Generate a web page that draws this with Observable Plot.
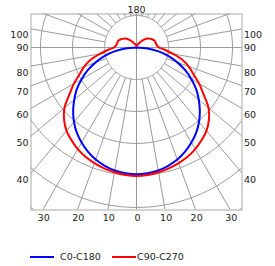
<!DOCTYPE html>
<html>
<head>
<meta charset="utf-8">
<script src="https://cdn.jsdelivr.net/npm/d3@7"></script>
<script src="https://cdn.jsdelivr.net/npm/@observablehq/plot@0.6"></script>
<style>
  html, body { margin: 0; padding: 0; background: #fff; }
  #wrap { position: relative; width: 275px; height: 266px; font-family: "DejaVu Sans", sans-serif; }
  #legend { position: absolute; top: 251px; left: 0; width: 275px; height: 12px; font-size: 9.5px; color: #222; }
  .sw { position: absolute; top: 5px; width: 24px; height: 2px; }
  .lb { position: absolute; top: 0; line-height: 12px; white-space: nowrap; }
</style>
</head>
<body>
<div id="wrap">
  <div id="chart"></div>
  <div id="legend">
    <span class="sw" style="left:30px;background:#0000ff"></span><span class="lb" style="left:60px">C0-C180</span>
    <span class="sw" style="left:112px;background:#ff0000"></span><span class="lb" style="left:137px">C90-C270</span>
  </div>
</div>
<script>
// gamma angles (deg, 0 = nadir) and intensities (relative, 100 = ring 4)
const redAngles = [0,5,10,15,20,25,30,35,40,45,50,55,60,65,70,75,80,85,90,95,100,105,110,115,120,125,130,135,140,145,150,155,160,165,170,175,180];
const redVals   = [100.5,100,99,97.8,96.2,94.3,91.7,88.5,85,80,73.5,64,56.5,49,43.5,37,29,22.5,17.6,16.2,15.6,15.4,15.2,14.3,13.3,12.1,11,9,7,5.3,3.9,3,2.3,1.9,1.6,1.3,1.2];
const blueAngles = [0,5,10,15,20,25,30,35,40,45,50,55,60,65,70,75,80,85,90];
const blueVals   = [99,98.6,97.6,95.7,93.2,89.8,85.8,81.3,76,70,63.5,57,49.5,42,34,26,17.5,8.7,0];
const ringVals = [25,50,75,100,125,150];
const spokeAngles = [10,20,30,40,50,60,70,80,100,110,120,130,140,150,160,170];
const sideLabels = [40,50,60,70,80,90,100];
const bottomLabels = [0,10,20,30];
const topLabel = "180";

const rad = d => d * Math.PI / 180;
const XMAX = 82.42, YMIN = -127, YMAX = 26.17;

function curve(angles, vals) {
  const pts = [];
  for (let i = angles.length - 1; i >= 0; i--) pts.push({x: -vals[i] * Math.sin(rad(angles[i])), y: -vals[i] * Math.cos(rad(angles[i]))});
  for (let i = 1; i < angles.length; i++) pts.push({x: vals[i] * Math.sin(rad(angles[i])), y: -vals[i] * Math.cos(rad(angles[i]))});
  return pts;
}
const redPts = curve(redAngles, redVals);
const bluePts = curve(blueAngles, blueVals);

const ringPts = [];
for (const r of ringVals) for (let a = 0; a <= 360; a += 2) ringPts.push({r, x: r * Math.sin(rad(a)), y: -r * Math.cos(rad(a))});

const spokes = [];
for (const s of [-1, 1]) for (const a of spokeAngles) spokes.push({x1: s*25*Math.sin(rad(a)), y1: -25*Math.cos(rad(a)), x2: s*300*Math.sin(rad(a)), y2: -300*Math.cos(rad(a))});
const axes = [{x1: -300, y1: 0, x2: 300, y2: 0}, {x1: 0, y1: -300, x2: 0, y2: 300}];

const bottomData = [];
for (const s of [-1, 1]) for (const a of bottomLabels) { if (a === 0 && s === -1) continue; bottomData.push({x: s * (-YMIN) * Math.tan(rad(a)), label: String(a)}); }
const sideData = sideLabels.map(a => ({y: -XMAX * Math.cos(rad(a)) / Math.sin(rad(a)), label: String(a), dy: a === 90 ? 0 : 6.5}));

const grid = "#9a9a9a";
const plot = Plot.plot({
  width: 275, height: 230,
  marginLeft: 30.5, marginRight: 33.5, marginTop: 13.5, marginBottom: 20.5,
  x: {domain: [-XMAX, XMAX], axis: null},
  y: {domain: [YMIN, YMAX], axis: null},
  style: {fontFamily: "DejaVu Sans, sans-serif", fontSize: "9.5px", color: "#222", background: "#fff"},
  marks: [
    Plot.line(ringPts, {x: "x", y: "y", z: "r", stroke: grid, strokeWidth: 1, clip: true}),
    Plot.link(spokes, {x1: "x1", y1: "y1", x2: "x2", y2: "y2", stroke: grid, strokeWidth: 1, clip: true}),
    Plot.link(axes, {x1: "x1", y1: "y1", x2: "x2", y2: "y2", stroke: grid, strokeWidth: 1, clip: true}),
    Plot.frame({stroke: "#aaa", strokeWidth: 1}),
    Plot.line(bluePts, {x: "x", y: "y", stroke: "#0000ff", strokeWidth: 2, curve: "catmull-rom", clip: true}),
    Plot.line(redPts, {x: "x", y: "y", stroke: "#ff0000", strokeWidth: 2, curve: "catmull-rom", clip: true}),
    Plot.text(bottomData, {x: d => d.x, y: YMIN, text: "label", dy: 8, dx: 1, fill: "#222"}),
    Plot.text(sideData.filter(d => d.dy), {x: -XMAX, y: "y", text: "label", textAnchor: "end", dx: -2.5, dy: 6.5, fill: "#222"}),
    Plot.text(sideData.filter(d => !d.dy), {x: -XMAX, y: "y", text: "label", textAnchor: "end", dx: -2.5, fill: "#222"}),
    Plot.text(sideData.filter(d => d.dy), {x: XMAX, y: "y", text: "label", textAnchor: "start", dx: 2, dy: 6.5, fill: "#222"}),
    Plot.text(sideData.filter(d => !d.dy), {x: XMAX, y: "y", text: "label", textAnchor: "start", dx: 2, fill: "#222"}),
    Plot.text([topLabel], {x: 0, y: YMAX, text: d => d, dy: -4, fill: "#222"})
  ]
});
document.getElementById("chart").appendChild(plot);
</script>
</body>
</html>
